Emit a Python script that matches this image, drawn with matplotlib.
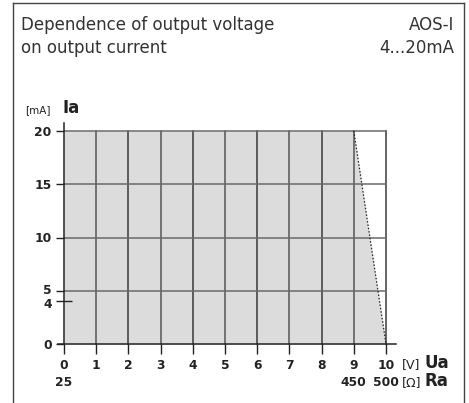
import matplotlib
matplotlib.use("Agg")
from matplotlib import pyplot as plt
from matplotlib.lines import Line2D
from matplotlib import transforms

# data
voltage = [0, 9, 10]          # Ua [V]
current = [20, 20, 0]         # Ia [mA]
x_ticks = [0, 1, 2, 3, 4, 5, 6, 7, 8, 9, 10]
y_ticks = [0, 5, 10, 15, 20]
y_minor = [4]
ra_pos = [0, 9, 10]
ra_labels = ['25', '450', '500']

W, H = 469, 403
fig = plt.figure(figsize=(W / 100, H / 100), dpi=100)

# outer frame (open at the bottom)
fx = lambda px: px / W
fy = lambda py: 1 - py / H
frame_kw = dict(color='#444444', lw=1.0, transform=fig.transFigure)
fig.add_artist(Line2D([fx(12.5), fx(12.5)], [fy(2.5), 0], **frame_kw))
fig.add_artist(Line2D([fx(463.5), fx(463.5)], [fy(2.5), 0], **frame_kw))
fig.add_artist(Line2D([fx(12.5), fx(463.5)], [fy(2.5), fy(2.5)], **frame_kw))

title_kw = dict(fontsize=12.0, family='DejaVu Sans', color='#333333')
fig.text(fx(21), fy(30), 'Dependence of output voltage', ha='left', va='baseline', **title_kw)
fig.text(fx(21), fy(53), 'on output current', ha='left', va='baseline', **title_kw)
fig.text(fx(454), fy(30), 'AOS-I', ha='right', va='baseline', **title_kw)
fig.text(fx(454), fy(53), '4...20mA', ha='right', va='baseline', **title_kw)

# axes: x=0 -> px 64, x=10 -> px 386 ; y=0 -> px 344, y=20 -> px 131
xu = (386 - 64) / 10
yu = (344 - 131) / 20
xmin, xmax = -0.3, 10.3
ymin, ymax = -0.6, 21.0
left = 64 + xmin * xu
bottom = 344 - ymin * yu
width = (xmax - xmin) * xu
height = (ymax - ymin) * yu
ax = fig.add_axes([left / W, 1 - bottom / H, width / W, height / H])
ax.set_xlim(xmin, xmax)
ax.set_ylim(ymin, ymax)
ax.patch.set_alpha(0)

ax.fill_between(voltage, current, 0, color='#dcdcdd', lw=0, zorder=1)
for x in x_ticks[1:]:
    ax.axvline(x, ymin=(0 - ymin) / (ymax - ymin), ymax=(20 - ymin) / (ymax - ymin),
               color='#3a3a3a' if x % 2 == 0 else '#555555', lw=1.1, zorder=2)
for y in y_ticks[1:]:
    ax.axhline(y, xmin=(0 - xmin) / (xmax - xmin), xmax=(10 - xmin) / (xmax - xmin),
               color='#6a6a6a', lw=1.1, zorder=2)
ax.plot(voltage[1:], current[1:], color='#222222', lw=0.9, ls=(0, (1.2, 1.5)), zorder=3)

for s in ['top', 'right']:
    ax.spines[s].set_visible(False)
ax.spines['left'].set_position(('data', 0))
ax.spines['bottom'].set_position(('data', 0))
ax.spines['left'].set_bounds(0, 20.75)
ax.spines['bottom'].set_bounds(-0.2, 10.3)
for s in ['left', 'bottom']:
    ax.spines[s].set_color('#222222')
    ax.spines[s].set_linewidth(1.1)
    ax.spines[s].set_zorder(4)

tick_font = dict(family='DejaVu Sans', fontweight='bold', fontsize=8.8)
ax.set_xticks(x_ticks)
ax.set_xticklabels([str(v) for v in x_ticks], color='#222222', **tick_font)
ax.set_yticks(y_ticks)
ax.set_yticklabels([str(v) for v in y_ticks], color='#222222', **tick_font)
ax.set_yticks(y_minor, minor=True)
ax.set_yticklabels([str(v) for v in y_minor], minor=True, color='#222222', **tick_font)
ax.tick_params(axis='x', direction='out', length=7, width=1.0, color='#222222', pad=4)
ax.tick_params(axis='y', which='major', direction='out', length=6, width=1.0, color='#222222', pad=3)
ax.tick_params(axis='y', which='minor', direction='inout', length=12, width=1.0, color='#222222', pad=3)

# nudge the "5" up and the "4" down a little so they do not touch
shift_up = transforms.ScaledTranslation(0, 1.2 / 72, fig.dpi_scale_trans)
shift_dn = transforms.ScaledTranslation(0, -1.5 / 72, fig.dpi_scale_trans)
for lab in ax.get_yticklabels(minor=True):
    lab.set_transform(lab.get_transform() + shift_dn)
for lab in ax.get_yticklabels():
    if lab.get_text() == '5':
        lab.set_transform(lab.get_transform() + shift_up)

# second row: load resistance
tr = transforms.blended_transform_factory(ax.transData, ax.transAxes)
row1_y = -(368 - bottom) / height
row2_y = -(386 - bottom) / height
for x, lab in zip(ra_pos, ra_labels):
    ax.text(x, row2_y, lab, ha='center', va='baseline', color='#222222',
            transform=tr, **tick_font)

unit_font = dict(family='DejaVu Sans', fontsize=9, color='#222222')
name_font = dict(family='DejaVu Sans', fontweight='bold', fontsize=12, color='#222222')
ax.text(10.5, row1_y, '[V]', ha='left', va='baseline', transform=tr, **unit_font)
ax.text(10.5, row2_y, '[Ω]', ha='left', va='baseline', transform=tr, **unit_font)
ax.text(11.2, row1_y, 'Ua', ha='left', va='baseline', transform=tr, **name_font)
ax.text(11.2, row2_y, 'Ra', ha='left', va='baseline', transform=tr, **name_font)

ax.text(-1.2, 21.7, '[mA]', ha='left', va='baseline', clip_on=False,
        family='DejaVu Sans', fontsize=7.5, color='#222222')
ax.text(-0.05, 21.7, 'Ia', ha='left', va='baseline', clip_on=False, **name_font)

fig.savefig('out.png', dpi=100)
